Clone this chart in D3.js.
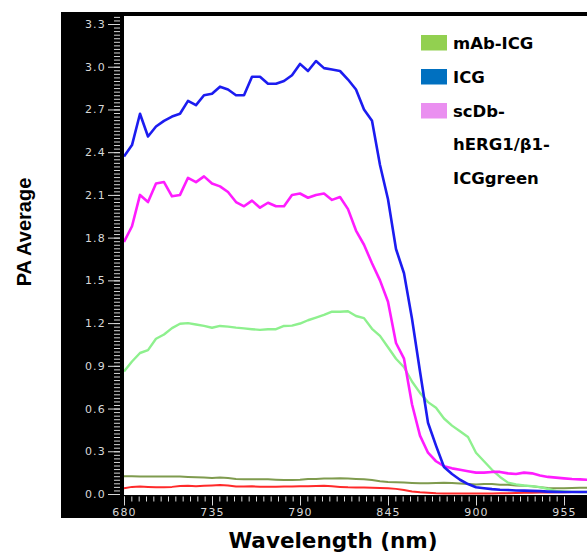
<!DOCTYPE html>
<html>
<head>
<meta charset="utf-8">
<script src="https://cdn.jsdelivr.net/npm/d3@7"></script>
<style>
  html, body { margin: 0; padding: 0; background: #fff; }
  svg { display: block; }
</style>
</head>
<body>
<svg id="chart" width="587" height="556"></svg>
<script>
// Wavelength grid (nm)
const wavelengths = [
  680, 685, 690, 695, 700, 705, 710, 715, 720, 725,
  730, 735, 740, 745, 750, 755, 760, 765, 770, 775,
  780, 785, 790, 795, 800, 805, 810, 815, 820, 825,
  830, 835, 840, 845, 850, 855, 860, 865, 870, 875,
  880, 885, 890, 895, 900, 905, 910, 915, 920, 925,
  930, 935, 940, 945, 950, 955, 960, 965, 970
];

// PA average spectra
const icg = [
  2.37, 2.45, 2.67, 2.51, 2.58, 2.62, 2.65, 2.67, 2.76, 2.73,
  2.80, 2.81, 2.86, 2.84, 2.80, 2.80, 2.93, 2.93, 2.88, 2.88,
  2.90, 2.94, 3.02, 2.97, 3.04, 2.99, 2.98, 2.97, 2.91, 2.84,
  2.70, 2.62, 2.31, 2.07, 1.72, 1.55, 1.23, 0.86, 0.50, 0.34,
  0.19, 0.14, 0.10, 0.07, 0.047, 0.04, 0.034, 0.03, 0.028, 0.025,
  0.024, 0.022, 0.02, 0.017, 0.015, 0.014, 0.014, 0.014, 0.014
];
const scDb = [
  1.77, 1.88, 2.10, 2.05, 2.18, 2.19, 2.09, 2.10, 2.22, 2.19,
  2.23, 2.18, 2.16, 2.12, 2.05, 2.02, 2.06, 2.01, 2.045, 2.02,
  2.02, 2.10, 2.11, 2.08, 2.10, 2.11, 2.065, 2.085, 2.00, 1.85,
  1.75, 1.62, 1.50, 1.35, 1.06, 0.95, 0.63, 0.41, 0.29, 0.23,
  0.195, 0.18, 0.17, 0.16, 0.15, 0.15, 0.155, 0.155, 0.145, 0.14,
  0.15, 0.145, 0.13, 0.12, 0.115, 0.11, 0.105, 0.103, 0.10
];
const mAb = [
  0.86, 0.93, 0.99, 1.01, 1.09, 1.12, 1.165, 1.195, 1.20, 1.19,
  1.18, 1.167, 1.18, 1.175, 1.168, 1.163, 1.157, 1.152, 1.157, 1.157,
  1.18, 1.182, 1.197, 1.22, 1.238, 1.257, 1.28, 1.28, 1.283, 1.25,
  1.235, 1.16, 1.11, 1.03, 0.95, 0.89, 0.79, 0.71, 0.645, 0.605,
  0.53, 0.48, 0.44, 0.40, 0.29, 0.23, 0.17, 0.12, 0.08, 0.068,
  0.06, 0.055, 0.048, 0.035, 0.022, 0.018, 0.015, 0.014, 0.014
];
const controlA = [
  0.125, 0.124, 0.122, 0.122, 0.122, 0.122, 0.122, 0.122, 0.12, 0.118,
  0.115, 0.113, 0.115, 0.112, 0.105, 0.103, 0.103, 0.103, 0.103, 0.10,
  0.098, 0.098, 0.10, 0.105, 0.105, 0.108, 0.108, 0.11, 0.108, 0.105,
  0.103, 0.098, 0.09, 0.085, 0.082, 0.08, 0.078, 0.075, 0.076, 0.078,
  0.079, 0.078, 0.074, 0.07, 0.066, 0.07, 0.07, 0.065, 0.065, 0.06,
  0.058, 0.055, 0.048, 0.042, 0.04, 0.04, 0.042, 0.044, 0.044
];
const controlB = [
  0.04, 0.05, 0.052, 0.05, 0.047, 0.047, 0.05, 0.056, 0.058, 0.055,
  0.058, 0.06, 0.063, 0.06, 0.052, 0.052, 0.054, 0.051, 0.051, 0.051,
  0.053, 0.053, 0.054, 0.054, 0.056, 0.058, 0.054, 0.05, 0.047, 0.046,
  0.045, 0.044, 0.042, 0.04, 0.036, 0.028, 0.018, 0.012, 0.008, 0.005,
  0.004, 0.004, 0.004, 0.004, 0.004, 0.004, 0.004, 0.005, 0.006, 0.007,
  0.008, 0.009, 0.01, 0.011, 0.012, 0.013, 0.014, 0.014, 0.014
];

const xTickValues = [680, 735, 790, 845, 900, 955];
const yTickValues = [0.0, 0.3, 0.6, 0.9, 1.2, 1.5, 1.8, 2.1, 2.4, 2.7, 3.0, 3.3];

const legendItems = [
  { lines: ["mAb-ICG"], swatch: "#92d050" },
  { lines: ["ICG"], swatch: "#0070c0" },
  { lines: ["scDb-", "hERG1/\u03b21-", "ICGgreen"], swatch: "#ea8ff0" }
];

const series = [
  { values: controlB, color: "#ff2a2a", width: 2 },
  { values: controlA, color: "#7f9b4e", width: 2 },
  { values: mAb, color: "#8ef08e", width: 2.4 },
  { values: scDb, color: "#ff1cff", width: 2.6 },
  { values: icg, color: "#1c1cf0", width: 2.6 }
];

// Layout
const panel = { left: 61, top: 12, right: 587, bottom: 518 };
const plot = { left: 124, top: 16, right: 587, bottom: 495 };

const svg = d3.select("#chart");

const x = d3.scaleLinear().domain([680, 970]).range([124, 588]);
const y = d3.scaleLinear().domain([0, 3.3]).range([494, 24]);

// Black frame behind the axes
svg.append("rect")
  .attr("x", panel.left).attr("y", panel.top)
  .attr("width", panel.right - panel.left)
  .attr("height", panel.bottom - panel.top)
  .attr("fill", "#000");

// White plotting area
svg.append("rect")
  .attr("x", plot.left).attr("y", plot.top)
  .attr("width", plot.right - plot.left)
  .attr("height", plot.bottom - plot.top)
  .attr("fill", "#fff");

const tickColor = "#d8d8d8";
const labelFont = "'DejaVu Sans', Verdana, sans-serif";

// Y axis: major ticks every 0.3 with twelve minor divisions
const yMinor = d3.range(0, 3.36, 0.025).filter(v => y(v) >= plot.top);
const yAxisMinor = d3.axisLeft(y).tickValues(yMinor).tickSize(6).tickFormat("");
const yAxisMajor = d3.axisLeft(y).tickValues(yTickValues).tickSize(12).tickPadding(2)
  .tickFormat(d3.format(".1f"));

const gyMinor = svg.append("g").attr("transform", "translate(120,0)").call(yAxisMinor);
const gyMajor = svg.append("g").attr("transform", "translate(120,0)").call(yAxisMajor);
[gyMinor, gyMajor].forEach(g => {
  g.select(".domain").remove();
  g.selectAll(".tick line").attr("stroke", tickColor).attr("stroke-width", 1);
});
gyMajor.selectAll(".tick text")
  .attr("fill", tickColor)
  .style("font-family", labelFont)
  .style("font-size", "11px")
  .style("letter-spacing", "1.2px");

// X axis: major ticks every 55 nm with twelve minor divisions
const xMinor = d3.range(0, 60).map(i => 680 + i * 55 / 12).filter(v => x(v) <= 587);
const xAxisMinor = d3.axisBottom(x).tickValues(xMinor).tickSize(5).tickFormat("");
const xAxisMajor = d3.axisBottom(x).tickValues(xTickValues).tickSize(9).tickPadding(3)
  .tickFormat(d3.format("d"));

const gxMinor = svg.append("g").attr("transform", "translate(0,496.5)").call(xAxisMinor);
const gxMajor = svg.append("g").attr("transform", "translate(0,496.5)").call(xAxisMajor);
[gxMinor, gxMajor].forEach(g => {
  g.select(".domain").remove();
  g.selectAll(".tick line").attr("stroke", tickColor).attr("stroke-width", 1);
});
gxMajor.selectAll(".tick text")
  .attr("fill", tickColor)
  .style("font-family", labelFont)
  .style("font-size", "11px")
  .style("letter-spacing", "1.2px");

// Spectra
svg.append("clipPath").attr("id", "plot-clip")
  .append("rect")
  .attr("x", plot.left).attr("y", plot.top)
  .attr("width", plot.right - plot.left)
  .attr("height", plot.bottom - plot.top);

const line = d3.line()
  .x((d, i) => x(wavelengths[i]))
  .y(d => y(d));

const gLines = svg.append("g").attr("clip-path", "url(#plot-clip)");
series.forEach(s => {
  gLines.append("path")
    .datum(s.values)
    .attr("d", line)
    .attr("fill", "none")
    .attr("stroke", s.color)
    .attr("stroke-width", s.width)
    .attr("stroke-linejoin", "round");
});

// Legend
const legendFont = "'DejaVu Sans', Verdana, sans-serif";
const legend = svg.append("g");
const rowGap = 34;
let row = 0;
legendItems.forEach(item => {
  const base = 49 + row * rowGap;
  legend.append("rect")
    .attr("x", 421).attr("y", base - 14)
    .attr("width", 26).attr("height", 15.5)
    .attr("fill", item.swatch);
  item.lines.forEach((t, k) => {
    legend.append("text")
      .attr("x", 453).attr("y", base + k * rowGap - (k > 0 ? 1 : 0))
      .attr("fill", "#000")
      .style("font-family", legendFont)
      .style("font-weight", "bold")
      .style("font-size", "16.5px")
      .text(t);
  });
  row += item.lines.length;
});

// Axis titles
svg.append("text")
  .attr("x", 333).attr("y", 548)
  .attr("text-anchor", "middle")
  .attr("fill", "#000")
  .style("font-family", legendFont)
  .style("font-weight", "bold")
  .style("font-size", "21.5px")
  .text("Wavelength (nm)");

svg.append("text")
  .attr("transform", "translate(24,232) rotate(-90)")
  .attr("text-anchor", "middle")
  .attr("dominant-baseline", "central")
  .attr("fill", "#000")
  .style("font-family", "'Liberation Sans', Arial, sans-serif")
  .style("font-weight", "bold")
  .style("font-size", "20px")
  .text("PA Average");
</script>
</body>
</html>
